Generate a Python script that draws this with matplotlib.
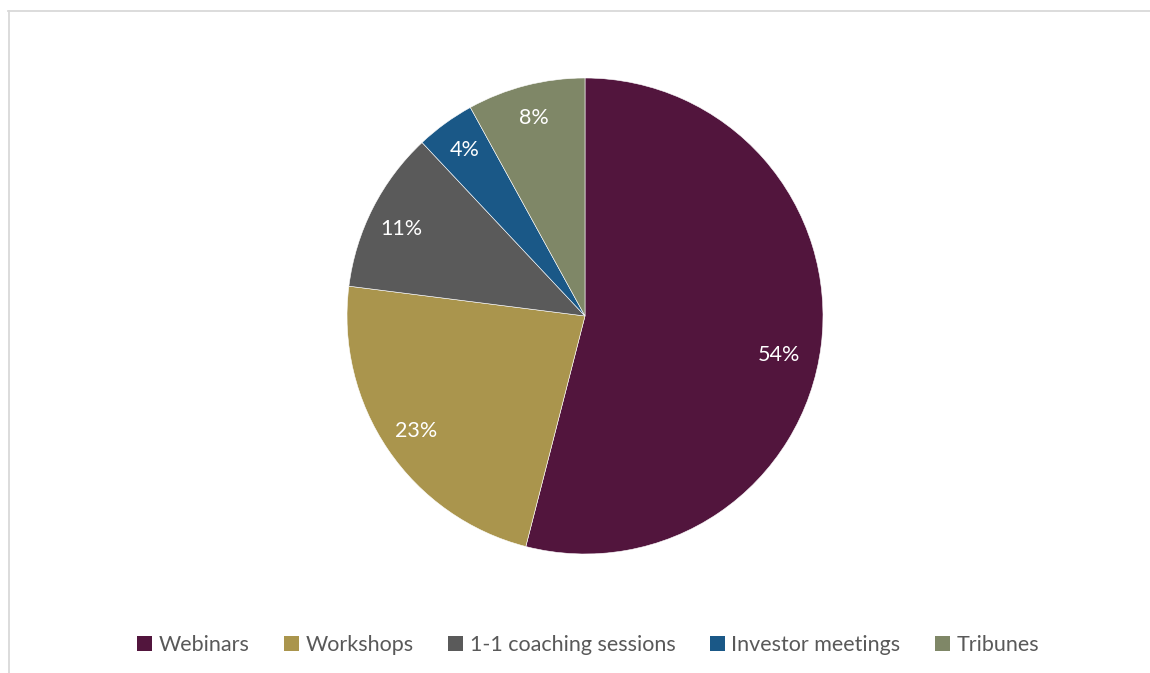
import matplotlib
matplotlib.use("Agg")
import matplotlib.pyplot as plt
from matplotlib.lines import Line2D
from matplotlib.patches import Patch
import numpy as np

categories = ["Webinars", "Workshops", "1-1 coaching sessions", "Investor meetings", "Tribunes"]
values = [54, 23, 11, 4, 8]
colors = ["#52153D", "#AA954D", "#5A5A5A", "#1A5887", "#7F8767"]

plt.rcParams['font.family'] = ['Lato', 'DejaVu Sans']

W, H = 1150, 673
fig = plt.figure(figsize=(W / 100, H / 100), dpi=100)

cx, cy, r = 585, 316, 238
ax = fig.add_axes([(cx - r) / W, (H - cy - r) / H, 2 * r / W, 2 * r / H])
wedges, texts, autotexts = ax.pie(
    values, colors=colors, startangle=90, counterclock=False,
    autopct=lambda p: f"{p:.0f}%", pctdistance=0.86,
    wedgeprops=dict(edgecolor="white", linewidth=0.4),
    textprops=dict(color="white", fontsize=15.5))
# Excel nudges some labels slightly
ang = np.deg2rad(-11.4)
autotexts[0].set_position((0.83 * np.cos(ang), 0.83 * np.sin(ang)))
ang = np.deg2rad(154.7)
autotexts[2].set_position((0.855 * np.cos(ang), 0.855 * np.sin(ang)))
ax.set_xlim(-1, 1)
ax.set_ylim(-1, 1)
ax.axis("off")

handles = [Patch(facecolor=c, edgecolor="none") for c in colors]
leg = fig.legend(handles, categories, loc="center", bbox_to_anchor=(588 / W, 1 - 645 / H),
                 ncol=5, frameon=False, fontsize=15.5, handlelength=0.7, handleheight=0.7,
                 handletextpad=0.3, columnspacing=1.6, labelcolor="#595959")

# chart area border (top and left visible)
fig.add_artist(Line2D([8 / W, 1.0], [1 - 10.5 / H] * 2, transform=fig.transFigure,
                      color="#D9D9D9", linewidth=1.3))
fig.add_artist(Line2D([8.5 / W] * 2, [0, 1 - 10.5 / H], transform=fig.transFigure,
                      color="#D9D9D9", linewidth=1.3))

fig.savefig("out.png", dpi=100, facecolor="white")
